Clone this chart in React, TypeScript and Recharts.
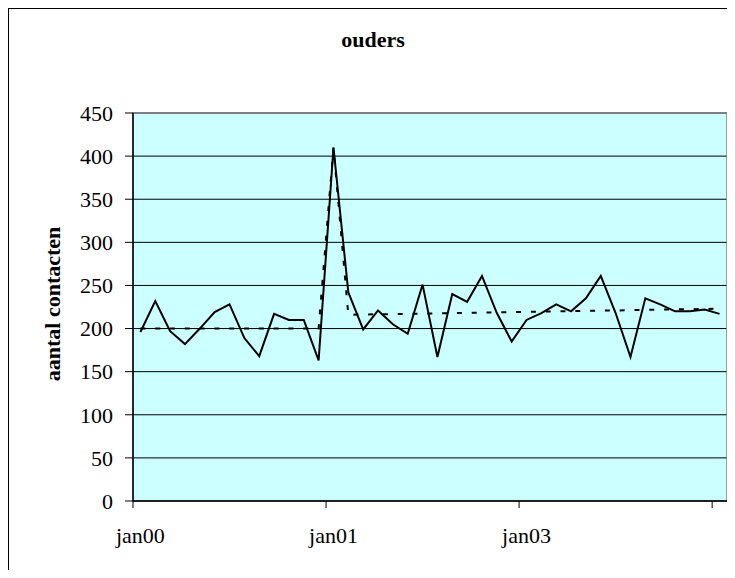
import React from "react";
import { LineChart, Line, XAxis, YAxis, CartesianGrid, ReferenceArea } from "recharts";

// monthly contact counts (solid line)
const contacts = [
  196, 232, 197, 182, 200, 219, 228, 189, 168, 217, 210, 210, 163,
  410, 242, 199, 221, 205, 194, 251, 167, 240, 231, 261, 218, 185,
  210, 218, 228, 220, 235, 261, 218, 167, 235, 228, 220, 220, 222, 217,
];

// fitted level (dashed line)
const trend = [
  200, 200, 200, 200, 200, 200, 200, 200, 200, 200, 200, 200, 200,
  410, 216, 216.3, 216.6, 216.8, 217.1, 217.4, 217.7, 218, 218.2, 218.5, 218.8, 219.1,
  219.4, 219.6, 219.9, 220.2, 220.5, 220.8, 221, 221.3, 221.6, 221.9, 222.2, 222.4, 222.7, 223,
];

const tickPositions = [0, 13, 26, 39];
const tickLabels = ["jan00", "jan01", "jan03", ""];
const yTicks = [0, 50, 100, 150, 200, 250, 300, 350, 400, 450];

const W = 727;
const H = 570;
const LEFT = 125;
const RIGHT = 8;
const FONT = '"Liberation Serif", "Times New Roman", serif';

const chartData = contacts.map((v, i) => ({ x: i + 0.5, contacts: v, trend: trend[i] }));

const halfBand = (W - LEFT - RIGHT) / contacts.length / 2;

const XTick = (props: any) => {
  const { x, y, payload } = props;
  const label = tickLabels[tickPositions.indexOf(payload.value)] || "";
  if (!label) return <g />;
  return (
    <text x={x + halfBand} y={y} dy="0.71em" textAnchor="middle" fill="#000" fontSize={22} fontFamily={FONT}>
      {label}
    </text>
  );
};

const YTick = (props: any) => {
  const { x, y, payload } = props;
  return (
    <text x={x} y={y} dy="0.355em" textAnchor="end" fill="#000" fontSize={22} fontFamily={FONT}>
      {payload.value}
    </text>
  );
};

export default function App() {
  return (
    <div style={{ position: "relative", width: W, height: H, overflow: "hidden", marginBottom: -8, fontFamily: FONT }}>
      <div style={{ position: "absolute", left: 0, top: 0, width: 800, height: 700, border: "1px solid #000" }} />
      <div
        style={{
          position: "absolute", left: 0, top: 21, width: 730, textAlign: "center",
          fontSize: 22, lineHeight: "22px", fontWeight: "bold", color: "#000",
        }}
      >
        ouders
      </div>
      <div
        style={{
          position: "absolute", left: 45, top: 296, transform: "translate(-50%, -50%) rotate(-90deg)",
          whiteSpace: "nowrap", fontSize: 22, lineHeight: "22px", fontWeight: "bold", color: "#000",
        }}
      >
        aantal contacten
      </div>
      <div style={{ position: "absolute", left: 0, top: 0 }}>
        <LineChart
          width={W} height={H} data={chartData} style={{ fontFamily: FONT }}
          margin={{ top: 105, right: RIGHT, left: 0, bottom: 0 }}
        >
          <CartesianGrid vertical={false} stroke="#000" fill="#CCFFFF" strokeOpacity={1} />
          <ReferenceArea x1={0} x2={40} y1={0} y2={450} stroke="#808080" strokeWidth={1.5} fill="none" fillOpacity={0} />
          <XAxis
            dataKey="x" type="number" domain={[0, 40]} ticks={tickPositions} height={77}
            axisLine={{ stroke: "#000", strokeWidth: 1.5 }} tickLine={{ stroke: "#000" }}
            tickSize={7} tickMargin={19} tick={<XTick />} interval={0}
          />
          <YAxis
            type="number" domain={[0, 450]} ticks={yTicks} width={LEFT} interval={0}
            axisLine={{ stroke: "#000", strokeWidth: 1.5 }} tickLine={{ stroke: "#000" }}
            tickSize={8} tickMargin={12} tick={<YTick />}
          />
          <Line
            dataKey="trend" type="linear" stroke="#000" strokeWidth={2} strokeDasharray="5 9.8"
            dot={false} isAnimationActive={false}
          />
          <Line dataKey="contacts" type="linear" stroke="#000" strokeWidth={2} dot={false} isAnimationActive={false} />
        </LineChart>
      </div>
    </div>
  );
}
